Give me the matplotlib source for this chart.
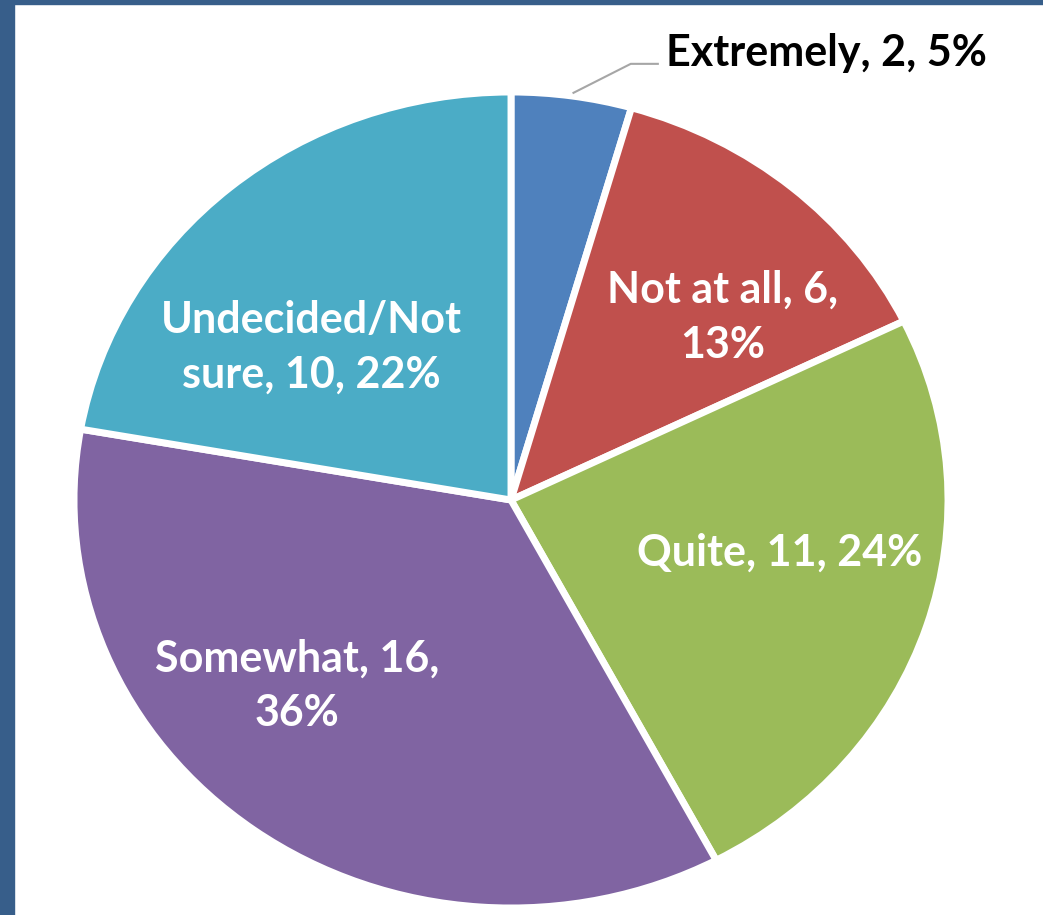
import matplotlib.pyplot as plt
from matplotlib.patches import Rectangle

# survey responses
categories = ["Extremely", "Not at all", "Quite", "Somewhat", "Undecided/Not sure"]
counts = [2, 6, 11, 16, 10]
percents = [5, 13, 24, 36, 22]
labels = ["Extremely, 2, 5%", "Not at all, 6,\n13%", "Quite, 11, 24%",
          "Somewhat, 16,\n36%", "Undecided/Not\nsure, 10, 22%"]
colors = ["#4f81bd", "#c0504d", "#9bbb59", "#8064a2", "#4bacc6"]

W, H = 1043, 915
fig = plt.figure(figsize=(W / 100, H / 100), dpi=100)
fig.patch.set_facecolor("white")

# frame strips on the left and top
fig.patches.append(Rectangle((0, 0), 14 / W, 1, transform=fig.transFigure,
                             color="#375e8a", zorder=5))
fig.patches.append(Rectangle((0, 1 - 4 / H), 1, 4 / H, transform=fig.transFigure,
                             color="#375e8a", zorder=5))

# pie is drawn slightly wider than tall
cx, cy, rx, ry = 511, 500, 437, 408
ax = fig.add_axes([(cx - rx) / W, (H - cy - ry) / H, 2 * rx / W, 2 * ry / H])
ax.pie(counts, colors=colors, startangle=90, counterclock=False, radius=1.0,
       wedgeprops=dict(edgecolor="white", linewidth=5))
ax.set_aspect("auto")
ax.set_xlim(-1, 1)
ax.set_ylim(-1, 1)
ax.axis("off")

font = dict(family=["Lato", "DejaVu Sans"], fontweight="bold", fontsize=31,
            linespacing=1.45)

# inside labels
inside = {1: (0.485, 0.448), 2: (0.614, -0.128), 3: (-0.490, -0.456), 4: (-0.457, 0.374)}
for i, (x, y) in inside.items():
    ax.text(x, y, labels[i], color="white", ha="center", va="center", **font)

# outside label with leader line
ax.plot([0.143, 0.274, 0.336], [0.998, 1.069, 1.069], color="#a6a6a6", lw=1.5,
        clip_on=False)
ax.text(0.354, 1.096, labels[0], color="black", ha="left", va="center",
        clip_on=False, **font)

fig.savefig("out.png", dpi=100, facecolor="white")
